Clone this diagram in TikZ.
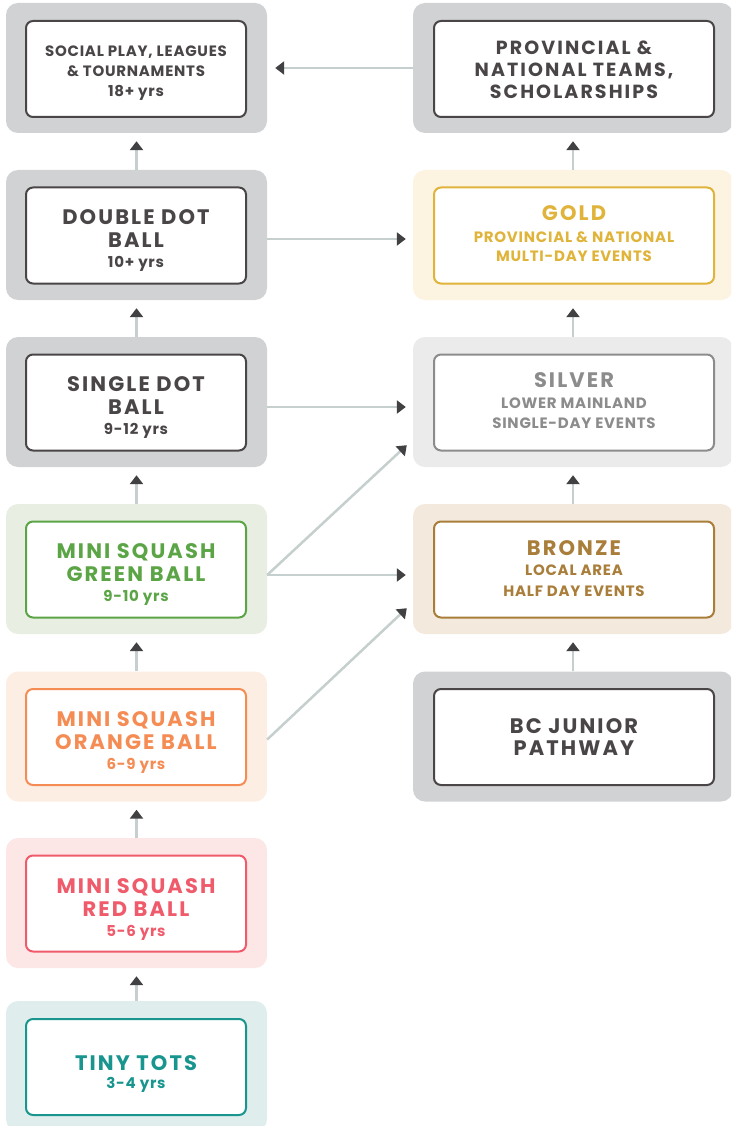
\documentclass[tikz,border=0pt]{standalone}
\usepackage{fontspec}
\setmainfont{Poppins}[LetterSpace=5]
\newfontfamily\headfam{Poppins}[LetterSpace=10]
\newfontfamily\teamfam{Poppins}[LetterSpace=11]
\usetikzlibrary{arrows.meta}

\definecolor{grayBg}{HTML}{D1D2D4}
\definecolor{grayDk}{HTML}{4A4647}
\definecolor{goldBg}{HTML}{FCF3E0}
\definecolor{goldFg}{HTML}{E0B43A}
\definecolor{silverBg}{HTML}{ECEBEC}
\definecolor{silverFg}{HTML}{8C8C8C}
\definecolor{bronzeBg}{HTML}{F3E9DC}
\definecolor{bronzeFg}{HTML}{A97E3A}
\definecolor{greenBg}{HTML}{E8EFE2}
\definecolor{greenFg}{HTML}{5BA546}
\definecolor{orangeBg}{HTML}{FDEEE4}
\definecolor{orangeFg}{HTML}{F58C53}
\definecolor{redBg}{HTML}{FDE6E6}
\definecolor{redFg}{HTML}{EF5B6B}
\definecolor{tealBg}{HTML}{DFEDEC}
\definecolor{tealFg}{HTML}{17958E}
\definecolor{connLine}{HTML}{C5CFCE}
\definecolor{connTip}{HTML}{414042}

% heading lines
\newcommand\ttl{\headfam\bfseries\fontsize{21}{20}\selectfont}
\newcommand\ttlm{\teamfam\bfseries\fontsize{19}{20}\selectfont}

\tikzset{
  panel/.style={rectangle, rounded corners=12pt, inner sep=0pt, draw=none, minimum height=130pt},
  panelL/.style={panel, minimum width=261pt},
  panelR/.style={panel, minimum width=320pt},
  card/.style={rectangle, rounded corners=7pt, line width=2pt, fill=white, inner sep=0pt,
    minimum height=96pt, draw=#1},
  cardL/.style={card=#1, minimum width=220pt},
  cardR/.style={card=#1, minimum width=280pt},
  txt/.style={anchor=north, inner sep=0pt, align=center, text=#1,
    font=\bfseries\fontsize{15}{20}\selectfont},
  conn/.style={line width=2.5pt, draw=connLine,
    -{Triangle[length=9pt, width=13pt, color=connTip]}},
}

\begin{document}
\begin{tikzpicture}[x=1pt, y=-1pt]
\useasboundingbox (0,0) rectangle (731,1126);
\clip (0,0) rectangle (731,1126);

% left column panels
\node[panelL, fill=grayBg]   (socBg) at (136.5,68) {};
\node[panelL, fill=grayBg]   (dblBg) at (136.5,235) {};
\node[panelL, fill=grayBg]   (sglBg) at (136.5,402) {};
\node[panelL, fill=greenBg]  (grnBg) at (136.5,569) {};
\node[panelL, fill=orangeBg] (orgBg) at (136.5,736.5) {};
\node[panelL, fill=redBg]    (redBg) at (136.5,903) {};
\node[panelL, fill=tealBg]   (totBg) at (136.5,1066) {};

% right column panels
\node[panelR, fill=grayBg]   (proBg) at (573,68) {};
\node[panelR, fill=goldBg]   (gldBg) at (573,235) {};
\node[panelR, fill=silverBg] (silBg) at (573,402) {};
\node[panelR, fill=bronzeBg] (brzBg) at (573,569) {};
\node[panelR, fill=grayBg]   (bcjBg) at (573,736.5) {};

% left column cards
\node[cardL=grayDk]   (soc) at (136,69) {};
\node[cardL=grayDk]   (dbl) at (136,235.5) {};
\node[cardL=grayDk]   (sgl) at (136,402.5) {};
\node[cardL=greenFg]  (grn) at (136,569.5) {};
\node[cardL=orangeFg] (org) at (136,737) {};
\node[cardL=redFg]    (red) at (136,903.5) {};
\node[cardL=tealFg]   (tot) at (136,1067) {};

% right column cards
\node[cardR=grayDk]   (pro) at (574,69) {};
\node[cardR=goldFg]   (gld) at (574,235.5) {};
\node[cardR=silverFg] (sil) at (574,402.5) {};
\node[cardR=bronzeFg] (brz) at (574,569.5) {};
\node[cardR=grayDk]   (bcj) at (574,737) {};

% card texts (anchored at the top of the first line)
\node[txt=grayDk] (socTxt) at (136,45.5)
  {SOCIAL PLAY, LEAGUES\\[0.5pt]\& TOURNAMENTS\\18+ yrs};
\node[txt=grayDk] (dblTxt) at (136,209)
  {{\ttl DOUBLE DOT}\\[3pt]{\ttl BALL}\\[0pt]10+ yrs};
\node[txt=grayDk] (sglTxt) at (136,376)
  {{\ttl SINGLE DOT}\\[3pt]{\ttl BALL}\\[0pt]9-12 yrs};
\node[txt=greenFg] (grnTxt) at (136,543.5)
  {{\ttl MINI SQUASH}\\[3pt]{\ttl GREEN BALL}\\[0pt]9-10 yrs};
\node[txt=orangeFg] (orgTxt) at (136,711)
  {{\ttl MINI SQUASH}\\[3pt]{\ttl ORANGE BALL}\\[0pt]6-9 yrs};
\node[txt=redFg] (redTxt) at (136,878)
  {{\ttl MINI SQUASH}\\[3pt]{\ttl RED BALL}\\[0pt]5-6 yrs};
\node[txt=tealFg] (totTxt) at (136,1055)
  {{\ttl TINY TOTS}\\[-2pt]3-4 yrs};

\node[txt=grayDk] (proTxt) at (574,40.5)
  {{\ttlm PROVINCIAL \&}\\[2pt]{\ttlm NATIONAL TEAMS,}\\[2pt]{\ttlm SCHOLARSHIPS}};
\node[txt=goldFg] (gldTxt) at (574,205)
  {{\ttl GOLD}\\[2pt]PROVINCIAL \& NATIONAL\\[-1pt]MULTI-DAY EVENTS};
\node[txt=silverFg] (silTxt) at (574,372)
  {{\ttl SILVER}\\[1pt]LOWER MAINLAND\\SINGLE-DAY EVENTS};
\node[txt=bronzeFg] (brzTxt) at (574,540)
  {{\ttl BRONZE}\\[0pt]LOCAL AREA\\[1pt]HALF DAY EVENTS};
\node[txt=grayDk] (bcjTxt) at (574,718)
  {{\ttl BC JUNIOR}\\[2pt]{\ttl PATHWAY}};

% upward steps, left column
\draw[conn] (dblBg.north) -- ([yshift=-8pt]socBg.south);
\draw[conn] (sglBg.north) -- ([yshift=-8pt]dblBg.south);
\draw[conn] (grnBg.north) -- ([yshift=-8pt]sglBg.south);
\draw[conn] (orgBg.north) -- ([yshift=-8pt]grnBg.south);
\draw[conn] (redBg.north) -- ([yshift=-8pt]orgBg.south);
\draw[conn] (totBg.north) -- ([yshift=-8pt]redBg.south);

% upward steps, right column
\draw[conn] (gldBg.north) -- ([yshift=-8pt]proBg.south);
\draw[conn] (silBg.north) -- ([yshift=-8pt]gldBg.south);
\draw[conn] (brzBg.north) -- ([yshift=-8pt]silBg.south);
\draw[conn] (bcjBg.north) -- ([yshift=-8pt]brzBg.south);

% crossings between the columns
\draw[conn] (proBg.west) -- ([xshift=8pt]socBg.east);
\draw[conn] ([yshift=-4pt]dblBg.east) -- ([xshift=-7pt,yshift=-4pt]gldBg.west);
\draw[conn] ([yshift=-5pt]sglBg.east) -- ([xshift=-7pt,yshift=-5pt]silBg.west);
\draw[conn] ([yshift=-6pt]grnBg.east) -- ([xshift=-7pt,yshift=-6pt]brzBg.west);
\draw[conn] ([yshift=-6pt]grnBg.east) -- ([xshift=-6pt,yshift=22pt]silBg.south west);
\draw[conn] ([yshift=-3pt]orgBg.east) -- ([xshift=-6pt,yshift=26pt]brzBg.south west);
\end{tikzpicture}
\end{document}
